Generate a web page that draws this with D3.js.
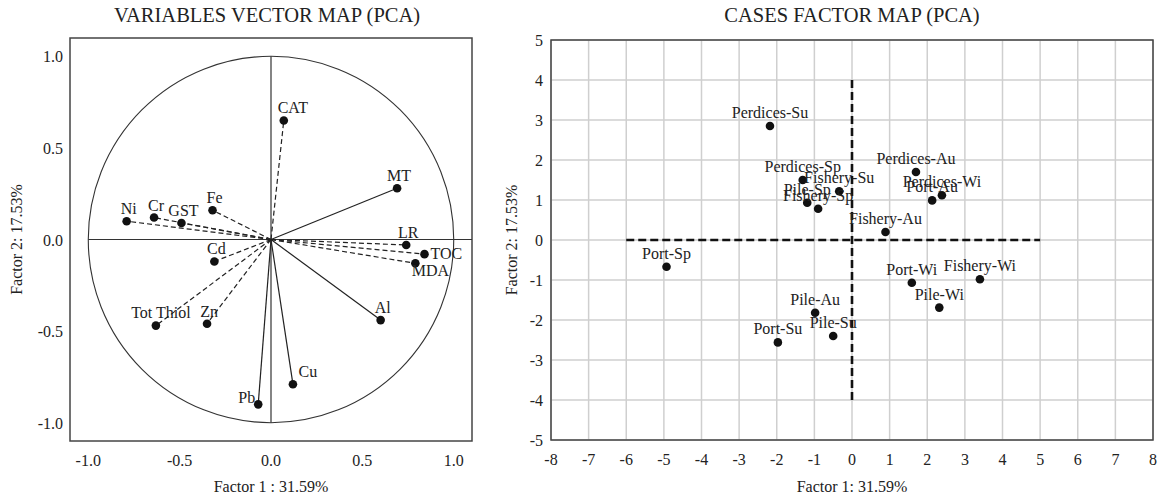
<!DOCTYPE html>
<html>
<head>
<meta charset="utf-8">
<script src="https://cdn.jsdelivr.net/npm/d3@7"></script>
<style>
  body { margin: 0; background: #fff; }
  svg text { font-family: "Liberation Serif", "DejaVu Serif", serif; fill: #222; }
</style>
</head>
<body>
<div class="js-graph"></div>
<script>
// variable loadings (factor 1, factor 2)
var varNames = ['CAT', 'MT', 'Ni', 'Cr', 'GST', 'Fe', 'LR', 'TOC', 'MDA', 'Cd', 'Al', 'Tot Thiol', 'Zn', 'Cu', 'Pb'];
var varF1 = [0.07, 0.69, -0.79, -0.64, -0.49, -0.32, 0.74, 0.84, 0.79, -0.31, 0.60, -0.63, -0.35, 0.12, -0.07];
var varF2 = [0.65, 0.28, 0.10, 0.12, 0.09, 0.16, -0.03, -0.08, -0.13, -0.12, -0.44, -0.47, -0.46, -0.79, -0.90];
var dashedVars = ['CAT', 'Ni', 'Cr', 'GST', 'Fe', 'LR', 'TOC', 'MDA', 'Cd', 'Tot Thiol', 'Zn'];

// case scores
var caseNames = ['Perdices-Su', 'Perdices-Sp', 'Fishery-Su', 'Pile-Sp', 'Fishery-Sp', 'Perdices-Au', 'Perdices-Wi', 'Port-Au',
  'Fishery-Au', 'Port-Sp', 'Port-Wi', 'Fishery-Wi', 'Pile-Wi', 'Pile-Au', 'Pile-Su', 'Port-Su'];
var caseF1 = [-2.18, -1.31, -0.34, -1.19, -0.90, 1.70, 2.39, 2.13, 0.89, -4.93, 1.59, 3.40, 2.32, -0.98, -0.50, -1.97];
var caseF2 = [2.85, 1.50, 1.22, 0.93, 0.78, 1.70, 1.12, 0.99, 0.20, -0.67, -1.07, -0.98, -1.69, -1.82, -2.40, -2.56];

var leftTicks = [-1.0, -0.5, 0.0, 0.5, 1.0];
var rightXTicks = d3.range(-8, 9);
var rightYTicks = d3.range(-5, 6);

var svg = d3.select('.js-graph').append('svg').attr('width', 1159).attr('height', 496);

// ---------- left: variables vector map ----------
var lx = d3.scaleLinear().domain([-1.1, 1.1]).range([70, 472]);
var ly = d3.scaleLinear().domain([-1.1, 1.1]).range([441, 38]);
var L = svg.append('g');

L.append('text').attr('x', 267).attr('y', 22).attr('text-anchor', 'middle')
  .style('font-size', '20.5px').text('VARIABLES VECTOR MAP (PCA)');

L.append('rect').attr('x', lx(-1.1)).attr('y', ly(1.1))
  .attr('width', lx(1.1) - lx(-1.1)).attr('height', ly(-1.1) - ly(1.1))
  .attr('fill', 'none').attr('stroke', '#444').attr('stroke-width', 1.5);

L.append('ellipse').attr('cx', lx(0)).attr('cy', ly(0))
  .attr('rx', lx(1) - lx(0)).attr('ry', ly(0) - ly(1))
  .attr('fill', 'none').attr('stroke', '#333').attr('stroke-width', 1.1);

L.append('line').attr('x1', lx(-1)).attr('x2', lx(1.1)).attr('y1', ly(0)).attr('y2', ly(0))
  .attr('stroke', '#333').attr('stroke-width', 1.2);
L.append('line').attr('x1', lx(0)).attr('x2', lx(0)).attr('y1', ly(1)).attr('y2', ly(-1))
  .attr('stroke', '#333').attr('stroke-width', 1.2);

var vars = varNames.map(function(n, i) { return { name: n, x: varF1[i], y: varF2[i] }; });

L.selectAll('line.vec').data(vars).enter().append('line').attr('class', 'vec')
  .attr('x1', lx(0)).attr('y1', ly(0))
  .attr('x2', function(d) { return lx(d.x); })
  .attr('y2', function(d) { return ly(d.y); })
  .attr('stroke', '#222').attr('stroke-width', 1.2)
  .attr('stroke-dasharray', function(d) { return dashedVars.indexOf(d.name) >= 0 ? '5,3' : null; });

L.selectAll('circle').data(vars).enter().append('circle')
  .attr('cx', function(d) { return lx(d.x); })
  .attr('cy', function(d) { return ly(d.y); })
  .attr('r', 4.3).attr('fill', '#111');

// label placement tweaks
var varLabelPos = {
  'CAT': { dx: 9, dy: -7, a: 'middle' },
  'TOC': { dx: 6, dy: 5, a: 'start' },
  'MDA': { dx: 15, dy: 13, a: 'middle' },
  'Cu': { dx: 15, dy: -7, a: 'middle' },
  'Pb': { dx: -3, dy: -1, a: 'end' },
  'Tot Thiol': { dx: 5, dy: -8, a: 'middle' }
};
L.selectAll('text.lab').data(vars).enter().append('text').attr('class', 'lab')
  .attr('x', function(d) { var p = varLabelPos[d.name]; return lx(d.x) + (p ? p.dx : 2); })
  .attr('y', function(d) { var p = varLabelPos[d.name]; return ly(d.y) + (p ? p.dy : -7); })
  .attr('text-anchor', function(d) { var p = varLabelPos[d.name]; return p ? p.a : 'middle'; })
  .style('font-size', '16px')
  .text(function(d) { return d.name; });

L.selectAll('text.xt').data(leftTicks).enter().append('text').attr('class', 'xt')
  .attr('x', function(d) { return lx(d); }).attr('y', 466)
  .attr('text-anchor', 'middle').style('font-size', '16px')
  .text(function(d) { return d.toFixed(1); });
L.selectAll('text.yt').data(leftTicks).enter().append('text').attr('class', 'yt')
  .attr('x', 63).attr('y', function(d) { return ly(d) + 6; })
  .attr('text-anchor', 'end').style('font-size', '16px')
  .text(function(d) { return d.toFixed(1); });

L.append('text').attr('x', lx(0)).attr('y', 492).attr('text-anchor', 'middle')
  .style('font-size', '16px').text('Factor 1 : 31.59%');
L.append('text').attr('transform', 'translate(22,' + ly(0) + ') rotate(-90)')
  .attr('text-anchor', 'middle').style('font-size', '16px').text('Factor 2: 17.53%');

// ---------- right: cases factor map ----------
var rx = d3.scaleLinear().domain([-8, 8]).range([551, 1153]);
var ry = d3.scaleLinear().domain([-5, 5]).range([440, 40]);
var R = svg.append('g');

R.append('text').attr('x', 852).attr('y', 22).attr('text-anchor', 'middle')
  .style('font-size', '20.5px').text('CASES FACTOR MAP (PCA)');

R.selectAll('line.gx').data(rightXTicks).enter().append('line').attr('class', 'gx')
  .attr('x1', function(d) { return rx(d); }).attr('x2', function(d) { return rx(d); })
  .attr('y1', ry(5)).attr('y2', ry(-5))
  .attr('stroke', '#cfcfcf').attr('stroke-width', 1.5);
R.selectAll('line.gy').data(rightYTicks).enter().append('line').attr('class', 'gy')
  .attr('y1', function(d) { return ry(d); }).attr('y2', function(d) { return ry(d); })
  .attr('x1', rx(-8)).attr('x2', rx(8))
  .attr('stroke', '#cfcfcf').attr('stroke-width', 1.5);

R.append('rect').attr('x', rx(-8)).attr('y', ry(5))
  .attr('width', rx(8) - rx(-8)).attr('height', ry(-5) - ry(5))
  .attr('fill', 'none').attr('stroke', '#444').attr('stroke-width', 1.5);

R.append('line').attr('x1', rx(-6)).attr('x2', rx(5)).attr('y1', ry(0)).attr('y2', ry(0))
  .attr('stroke', '#111').attr('stroke-width', 2.6).attr('stroke-dasharray', '8,4');
R.append('line').attr('x1', rx(0)).attr('x2', rx(0)).attr('y1', ry(4)).attr('y2', ry(-4))
  .attr('stroke', '#111').attr('stroke-width', 2.6).attr('stroke-dasharray', '8,4');

var cases = caseNames.map(function(n, i) { return { name: n, x: caseF1[i], y: caseF2[i] }; });

R.selectAll('circle').data(cases).enter().append('circle')
  .attr('cx', function(d) { return rx(d.x); })
  .attr('cy', function(d) { return ry(d.y); })
  .attr('r', 4.3).attr('fill', '#111');
R.selectAll('text.lab').data(cases).enter().append('text').attr('class', 'lab')
  .attr('x', function(d) { return rx(d.x); })
  .attr('y', function(d) { return ry(d.y) - 8; })
  .attr('text-anchor', 'middle').style('font-size', '16px')
  .text(function(d) { return d.name; });

R.selectAll('text.xt').data(rightXTicks).enter().append('text').attr('class', 'xt')
  .attr('x', function(d) { return rx(d); }).attr('y', 465)
  .attr('text-anchor', 'middle').style('font-size', '16px')
  .text(function(d) { return d; });
R.selectAll('text.yt').data(rightYTicks).enter().append('text').attr('class', 'yt')
  .attr('x', 543).attr('y', function(d) { return ry(d) + 6; })
  .attr('text-anchor', 'end').style('font-size', '16px')
  .text(function(d) { return d; });

R.append('text').attr('x', rx(0)).attr('y', 492).attr('text-anchor', 'middle')
  .style('font-size', '16px').text('Factor 1: 31.59%');
R.append('text').attr('transform', 'translate(517,' + ry(0) + ') rotate(-90)')
  .attr('text-anchor', 'middle').style('font-size', '16px').text('Factor 2: 17.53%');
</script>
</body>
</html>
